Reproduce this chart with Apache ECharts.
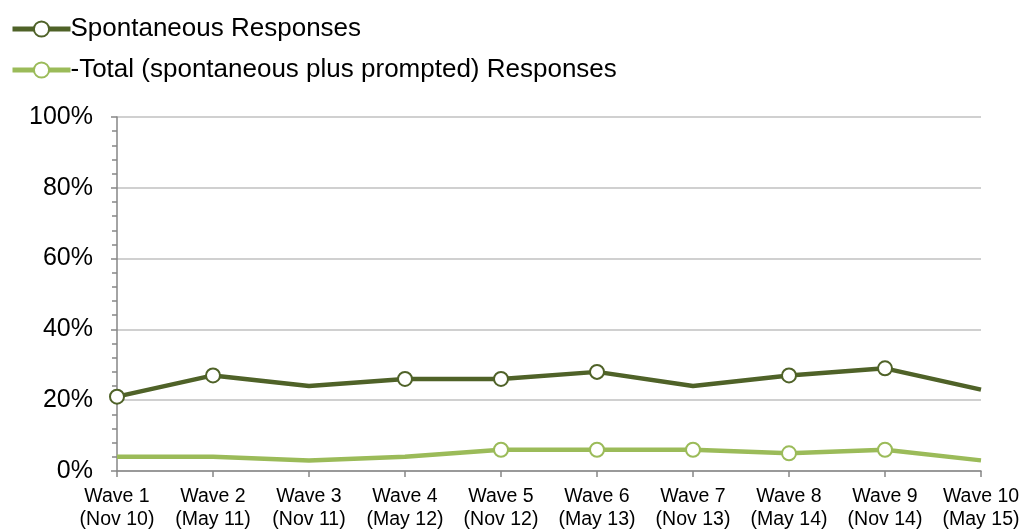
<!DOCTYPE html>
<html>
<head>
<meta charset="utf-8">
<script src="https://cdn.jsdelivr.net/npm/echarts@6/dist/echarts.min.js"></script>
<style>
  html, body { margin: 0; padding: 0; background: #fff; }
  #chart { width: 1026px; height: 530px; }
</style>
</head>
<body>
<div id="chart"></div>
<script>
// Survey waves shown along the x axis
const waves = ['Wave 1\n(Nov 10)', 'Wave 2\n(May 11)', 'Wave 3\n(Nov 11)', 'Wave 4\n(May 12)', 'Wave 5\n(Nov 12)',
               'Wave 6\n(May 13)', 'Wave 7\n(Nov 13)', 'Wave 8\n(May 14)', 'Wave 9\n(Nov 14)', 'Wave 10\n(May 15)'];

// Percentages per wave
const spontaneous = [21, 27, 24, 26, 26, 28, 24, 27, 29, 23];
const total = [4, 4, 3, 4, 6, 6, 6, 5, 6, 3];

// Which waves carry a circle marker
const spontaneousMarked = [true, true, false, true, true, true, false, true, true, false];
const totalMarked = [false, false, false, false, true, true, true, true, true, false];

const seriesNames = ['Spontaneous Responses', '-Total (spontaneous plus prompted) Responses'];
const yTicks = [0, 20, 40, 60, 80, 100];

const darkGreen = '#4F6228';
const lightGreen = '#9BBB59';

function withMarkers(values, marked) {
  return values.map((v, i) => marked[i] ? { value: v } : { value: v, symbol: 'none' });
}

const chart = echarts.init(document.getElementById('chart'), null, { renderer: 'canvas' });

const font = 'Arial, "Liberation Sans", sans-serif';

chart.setOption({
  animation: false,
  backgroundColor: '#ffffff',
  textStyle: { fontFamily: font },
  legend: {
    orient: 'vertical',
    left: 10,
    top: 16,
    padding: 0,
    itemWidth: 58,
    itemHeight: 19,
    itemGap: 15,
    lineStyle: { width: 5 },
    textStyle: { fontSize: 26, color: '#000', fontFamily: font, padding: [0, 0, 0, -5] },
    data: seriesNames
  },
  grid: { left: 117, right: 45, top: 117, bottom: 59, containLabel: false, outerBoundsMode: 'none' },
  xAxis: {
    type: 'category',
    data: waves,
    boundaryGap: false,
    axisLine: { lineStyle: { color: '#868686', width: 1.5 } },
    axisTick: { show: true, length: 6, alignWithLabel: true, lineStyle: { color: '#868686', width: 1.5 } },
    axisLabel: { color: '#000', fontSize: 19.5, lineHeight: 23, margin: 14, interval: 0, fontFamily: font },
    splitLine: { show: false }
  },
  yAxis: {
    type: 'value',
    min: yTicks[0],
    max: yTicks[yTicks.length - 1],
    interval: 20,
    axisLine: { show: true, lineStyle: { color: '#868686', width: 1.5 } },
    axisTick: { show: true, length: 6, lineStyle: { color: '#868686', width: 1.5 } },
    minorTick: { show: true, splitNumber: 5, length: 5, lineStyle: { color: '#868686', width: 1.5 } },
    axisLabel: { color: '#000', fontSize: 25, margin: 24, formatter: v => v + '%', fontFamily: font },
    splitLine: { show: true, lineStyle: { color: '#c0c0c0', width: 1.5 } }
  },
  series: [
    {
      name: seriesNames[0],
      type: 'line',
      data: withMarkers(spontaneous, spontaneousMarked),
      symbol: 'circle',
      symbolSize: 14,
      showAllSymbol: true,
      lineStyle: { color: darkGreen, width: 4.5 },
      itemStyle: { color: '#ffffff', borderColor: darkGreen, borderWidth: 2 },
      z: 3
    },
    {
      name: seriesNames[1],
      type: 'line',
      data: withMarkers(total, totalMarked),
      symbol: 'circle',
      symbolSize: 14,
      showAllSymbol: true,
      lineStyle: { color: lightGreen, width: 4.5 },
      itemStyle: { color: '#ffffff', borderColor: lightGreen, borderWidth: 2 },
      z: 2
    }
  ]
});
</script>
</body>
</html>
